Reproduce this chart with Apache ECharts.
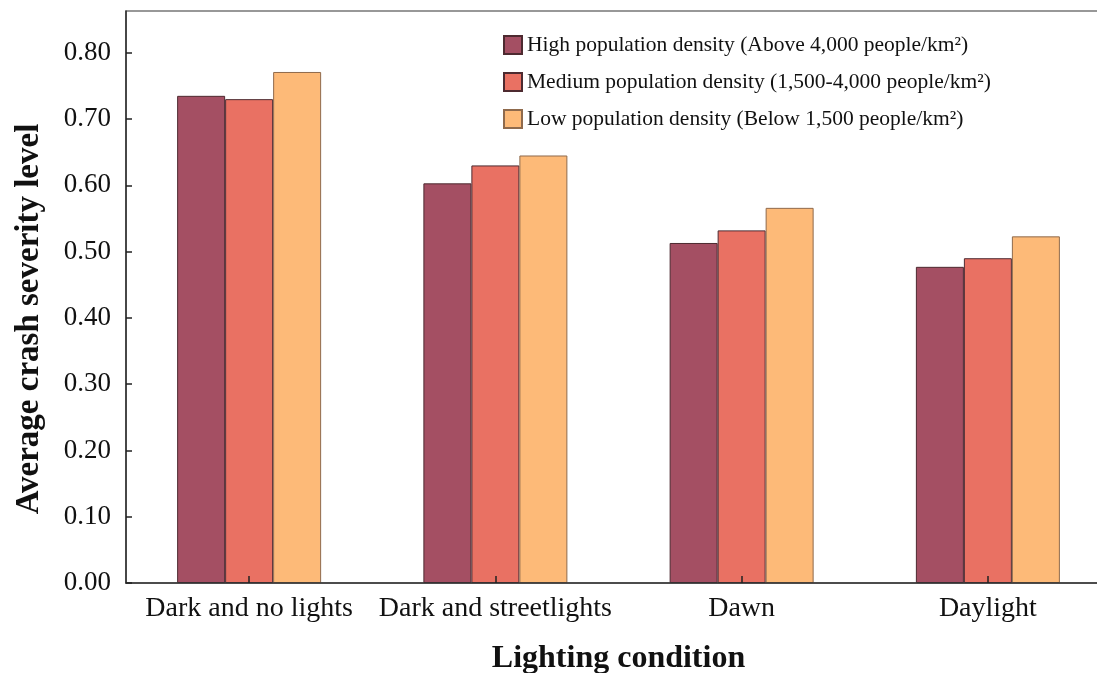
<!DOCTYPE html>
<html>
<head>
<meta charset="utf-8">
<script src="https://cdn.jsdelivr.net/npm/echarts@6/dist/echarts.min.js"></script>
<style>html,body{margin:0;padding:0;background:#fff;}#c{width:1097px;height:673px;}</style>
</head>
<body>
<div id="c"></div>
<script>
const categories = ['Dark and no lights', 'Dark and streetlights', 'Dawn', 'Daylight'];
const seriesNames = [
  'High population density (Above 4,000 people/km²)',
  'Medium population density (1,500-4,000 people/km²)',
  'Low population density (Below 1,500 people/km²)'
];
const highDensity = [0.735, 0.603, 0.513, 0.477];
const mediumDensity = [0.730, 0.630, 0.532, 0.490];
const lowDensity = [0.771, 0.645, 0.566, 0.523];
const colors = ['#a44f63', '#e97163', '#fdba78'];
const borders = ['#4d2a30', '#4d2a30', '#8f6a4c'];

const font = 'Liberation Serif, Times New Roman, serif';
const chart = echarts.init(document.getElementById('c'));
const dataSets = [highDensity, mediumDensity, lowDensity];
chart.setOption({
  animation: false,
  backgroundColor: '#fff',
  grid: { left: 126, right: -14, top: 11, bottom: 90, outerBoundsMode: 'none', containLabel: false,
    show: true, borderColor: '#333', borderWidth: 1.2, backgroundColor: 'transparent' },
  legend: {
    orient: 'vertical', left: 498, top: 29,
    itemWidth: 18, itemHeight: 18, itemGap: 15,
    icon: 'rect',
    textStyle: { fontFamily: font, fontSize: 21.5, color: '#111' },
    data: seriesNames
  },
  xAxis: {
    type: 'category', data: categories, z: 10,
    axisLine: { lineStyle: { color: '#333', width: 1.5 } },
    axisTick: { show: true, inside: true, alignWithLabel: true, length: 7, lineStyle: { color: '#222', width: 1.5 } },
    axisLabel: { interval: 0, fontFamily: font, fontSize: 28, color: '#111', margin: 12 },
    name: 'Lighting condition', nameLocation: 'middle', nameGap: 60,
    nameTextStyle: { fontFamily: font, fontSize: 32, fontWeight: 'bold', color: '#111' }
  },
  yAxis: {
    type: 'value', min: 0, max: 0.863, interval: 0.1, z: 10,
    splitLine: { show: false },
    axisLine: { show: true, lineStyle: { color: '#333', width: 1.5 } },
    axisTick: { show: true, inside: true, length: 6, lineStyle: { color: '#222', width: 1.5 } },
    axisLabel: { fontFamily: font, fontSize: 27, color: '#111', margin: 15, showMaxLabel: false,
      formatter: v => v.toFixed(2) },
    name: 'Average crash severity level', nameLocation: 'middle', nameGap: 80,
    nameTextStyle: { fontFamily: font, fontSize: 33, fontWeight: 'bold', color: '#111', padding: [0, 44, 0, 0] }
  },
  series: seriesNames.map((n, i) => ({
    name: n, type: 'bar', data: dataSets[i],
    barWidth: 48, barGap: '0%',
    itemStyle: { color: colors[i], borderColor: borders[i], borderWidth: 1 }
  }))
});
</script>
</body>
</html>
